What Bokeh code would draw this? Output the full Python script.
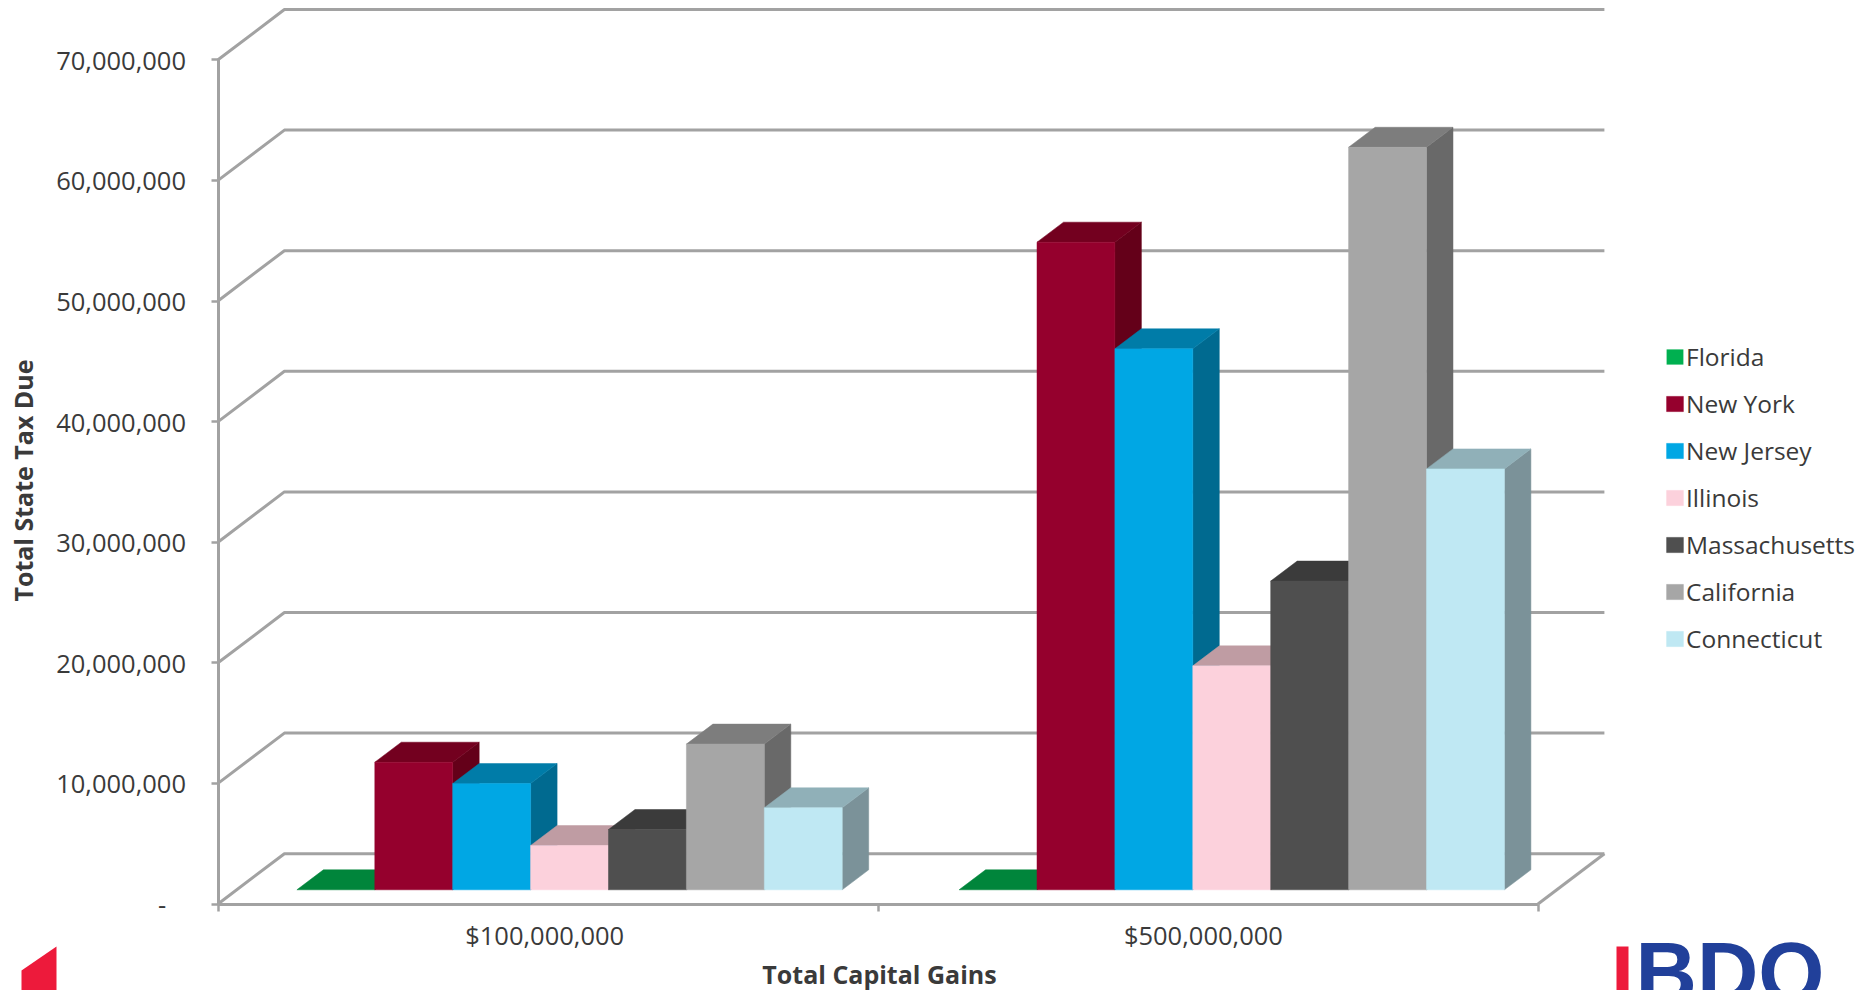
from math import pi
from bokeh.plotting import figure
from bokeh.models import Range1d, FixedTicker, LinearAxis, Legend, LegendItem, ColumnDataSource
from bokeh.core.properties import value
from bokeh.embed import file_html
from bokeh.resources import INLINE

# ---- data ----
categories = ["$100,000,000", "$500,000,000"]
category_ticks = [0.495, 1.493]
boundary_ticks = [0, 1, 2]
y_ticks = [0, 10000000, 20000000, 30000000, 40000000, 50000000, 60000000, 70000000]
series_names = ["Florida", "New York", "New Jersey", "Illinois", "Massachusetts", "California", "Connecticut"]
florida = [0, 0]
new_york = [10580000, 53700000]
new_jersey = [8810000, 44860000]
illinois = [3670000, 18570000]
massachusetts = [5000000, 25600000]
california = [12080000, 61570000]
connecticut = [6800000, 34900000]
front_colors = ["#00b050", "#95002d", "#00a7e4", "#fcd1dc", "#4f4f4f", "#a6a6a6", "#bfe8f3"]
top_colors = ["#00853b", "#73001f", "#007ca8", "#bf9ca3", "#3b3b3b", "#7d7d7d", "#90b0b8"]
side_colors = ["#00703a", "#640019", "#006a90", "#a58a90", "#323232", "#696969", "#7b9299"]
series_values = [florida, new_york, new_jersey, illinois, massachusetts, california, connecticut]

# ---- layout: page pixels <-> data units ----
W, H = 1860, 990
PAGE_X0, PAGE_Y0 = 0, 0
AXIS_X, AXIS_Y = 217.5, 903.5
PX_PER_CAT = 660.0
PX_PER_VAL = 120.6 / 1e7
FONT = "Open Sans"
TXT = "#3a3a3a"
GRIDC = "#a2a2a2"


def xd(px):
    return px / PX_PER_CAT


def yd(px):
    return px / PX_PER_VAL


def X(px):
    return xd(px - AXIS_X)


def Y(px):
    return yd(AXIS_Y - px)


WALL_DX, WALL_DY = xd(66.4), yd(50.3)
BAR_DX, BAR_DY = xd(26.5), yd(20.0)
BAR_W = xd(77.9)
BASE = yd(14.2)
GROUP_X = [xd(78.9), xd(78.9 + 662.2)]

p = figure(width=W, height=H, output_backend="svg", toolbar_location=None,
           x_range=Range1d(X(PAGE_X0), X(PAGE_X0 + W)),
           y_range=Range1d(Y(PAGE_Y0 + H), Y(PAGE_Y0)),
           min_border_left=0, min_border_bottom=0, min_border_top=0, min_border_right=0,
           x_axis_type=None, y_axis_type=None, outline_line_color=None,
           background_fill_color="white", border_fill_color="white")
p.grid.visible = False

# wall and floor lines
wall_xs = []
wall_ys = []
for t in y_ticks:
    wall_xs.append([0, WALL_DX, boundary_ticks[-1] + WALL_DX])
    wall_ys.append([t, t + WALL_DY, t + WALL_DY])
wall_xs.append([boundary_ticks[-1], boundary_ticks[-1] + WALL_DX])
wall_ys.append([0, WALL_DY])
p.multi_line(wall_xs, wall_ys, line_color=GRIDC, line_width=3, line_join="round")

# bars, painted left to right
items = []
for i, (name, values) in enumerate(zip(series_names, series_values)):
    left = [g + i * BAR_W for g in GROUP_X]
    right = [l + BAR_W for l in left]
    top = [BASE + v for v in values]
    bottom = [BASE for _ in values]
    side_x = [[r, r + BAR_DX, r + BAR_DX, r] for r in right]
    side_y = [[b, b + BAR_DY, t + BAR_DY, t] for b, t in zip(bottom, top)]
    top_x = [[l, l + BAR_DX, r + BAR_DX, r] for l, r in zip(left, right)]
    top_y = [[t, t + BAR_DY, t + BAR_DY, t] for t in top]
    if max(values) > 0:
        p.patches(side_x, side_y, fill_color=side_colors[i], line_color=side_colors[i], line_width=0.5)
    p.patches(top_x, top_y, fill_color=top_colors[i], line_color=top_colors[i], line_width=0.5)
    src = ColumnDataSource(dict(left=left, right=right, top=top, bottom=bottom))
    r = p.quad(left="left", right="right", top="top", bottom="bottom", source=src,
               fill_color=front_colors[i], line_color=front_colors[i],
               line_width=0.5, line_alpha=1 if max(values) > 0 else 0)
    items.append(LegendItem(label=name, renderers=[r]))

# y axis
yaxis = LinearAxis(ticker=FixedTicker(ticks=y_ticks), bounds=(y_ticks[0], y_ticks[-1]), fixed_location=0,
                   major_label_text_font=FONT, major_label_text_font_size="25.5px",
                   major_label_text_color=TXT, major_label_standoff=25,
                   major_tick_out=7, major_tick_in=0, minor_tick_out=0, minor_tick_in=0,
                   major_tick_line_color=GRIDC, major_tick_line_width=2.5,
                   axis_line_color=GRIDC, axis_line_width=3)
yaxis.major_label_overrides = {t: (f"{t:,}" if t else "-\u00a0\u00a0\u00a0") for t in y_ticks}
p.add_layout(yaxis, "left")

# x axis: boundary ticks
xaxis = LinearAxis(ticker=FixedTicker(ticks=boundary_ticks), bounds=(boundary_ticks[0], boundary_ticks[-1]),
                   fixed_location=0,
                   major_label_overrides={t: "" for t in boundary_ticks},
                   major_label_standoff=0, major_label_text_font_size="1px",
                   major_tick_out=7, major_tick_in=0, minor_tick_out=0, minor_tick_in=0,
                   major_tick_line_color=GRIDC, major_tick_line_width=2.5,
                   axis_line_color=GRIDC, axis_line_width=3)
p.add_layout(xaxis, "below")
# x axis: category names
caxis = LinearAxis(ticker=FixedTicker(ticks=category_ticks), fixed_location=0,
                   major_label_overrides=dict(zip(category_ticks, categories)),
                   major_label_text_font=FONT, major_label_text_font_size="25.5px",
                   major_label_text_color=TXT, major_label_standoff=14,
                   major_tick_out=0, major_tick_in=0, minor_tick_out=0, minor_tick_in=0,
                   axis_line_color=None)
p.add_layout(caxis, "below")

# axis titles
p.text([X(879)], [Y(973)], text=["Total Capital Gains"], text_font=value(FONT), text_font_size="25px",
       text_font_style="bold", text_color=TXT, text_align="center", text_baseline="middle")
p.text([X(22)], [Y(480)], text=["Total State Tax Due"], text_font=value(FONT), text_font_size="25px",
       text_font_style="bold", text_color=TXT, text_align="center", text_baseline="middle", angle=pi / 2)

legend = Legend(items=items, location=(1664, 335), orientation="vertical",
                glyph_width=21, glyph_height=19, label_standoff=1, spacing=14,
                padding=0, margin=0, border_line_color=None, background_fill_alpha=0,
                label_text_font=FONT, label_text_font_size="24.5px", label_text_color=TXT)
p.add_layout(legend, "center")

# footer brand marks
p.patch([X(21), X(56), X(56), X(21)], [Y(970), Y(946), Y(1000), Y(1000)], fill_color="#ed1a3b", line_color=None)
p.patch([X(1616), X(1628), X(1628), X(1616)], [Y(946), Y(946), Y(1000), Y(1000)], fill_color="#ed1a3b", line_color=None)
p.text([X(1635)], [Y(972)], text=["BDO"], text_font=value("Liberation Sans"), text_font_style="bold",
       text_font_size="85px", text_color="#21409a", text_align="left", text_baseline="alphabetic")

open("out.html", "w").write(file_html(p, INLINE))
